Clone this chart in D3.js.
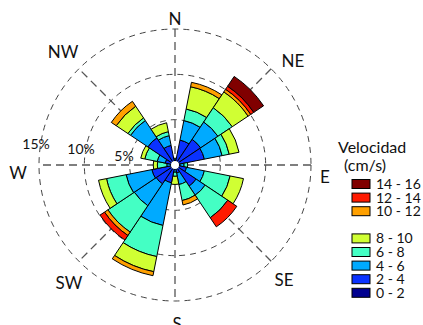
<!DOCTYPE html>
<html>
<head>
<meta charset="utf-8">
<script src="https://cdn.jsdelivr.net/npm/d3@7"></script>
<style>
  html, body { margin: 0; padding: 0; background: #fff; }
  svg { display: block; }
  text { font-family: Lato, "Open Sans", sans-serif; fill: #111; }
</style>
</head>
<body>
<svg id="rose" width="423" height="325"></svg>
<script>
// 16 compass sectors, clockwise from north
const directions = ["N","NNE","NE","ENE","E","ESE","SE","SSE","S","SSW","SW","WSW","W","WNW","NW","NNW"];

// speed classes (cm/s) and their colours
const speedClasses = ["0 - 2","2 - 4","4 - 6","6 - 8","8 - 10","10 - 12","12 - 14","14 - 16"];
const classColors  = ["#00008f","#0a32ff","#00aaff","#44ffc4","#d0ff33","#ffa000","#ff1a00","#800000"];

// frequency (% of records) per direction, one array per speed class
const f0_2   = [0,    0,   0,    0,   0,    0,   0,   0,   0,    0,   0,    0,   0,    0,    0,    0   ];
const f2_4   = [0.55, 2.8, 3.4,  3.3, 0.55, 1.3, 2.8, 0.9, 0.45, 2.0, 2.5,  2.6, 0.45, 1.1,  3.6,  2.2 ];
const f4_6   = [0.2,  2.2, 2.3,  2.0, 0.45, 2.0, 1.2, 1.3, 0.35, 4.8, 2.9,  2.9, 0.45, 0.9,  2.3,  1.1 ];
const f6_8   = [0,    1.3, 1.9,  0.8, 0.4,  2.9, 3.0, 1.8, 0.45, 3.5, 3.5,  2.2, 1.05, 1.4,  0.35, 0.45];
const f8_10  = [0,    2.5, 2.1,  1.1, 0,    1.5, 0,   0,   0.9,  1.7, 0,    0.9, 0.45, 0.45, 1.55, 1.0 ];
const f10_12 = [0,    0.5, 0.35, 0,   0,    0,   0,   0.5, 0,    0.45,0.45, 0,   0,    0,    0.65, 0   ];
const f12_14 = [0,    0,   0.4,  0,   0,    0,   1.2, 0,   0,    0,   0.6,  0,   0,    0,    0,    0   ];
const f14_16 = [0,    0,   1.3,  0,   0,    0,   0,   0,   0,    0,   0,    0,   0,    0,    0,    0   ];
const freqByClass = [f0_2, f2_4, f4_6, f6_8, f8_10, f10_12, f12_14, f14_16];

// radial rings and their labels
const ringValues = [5, 10, 15];
const ringLabels = ["5%", "10%", "15%"];
const compassLabels = ["N","NE","E","SE","S","SW","W","NW"];

const svg = d3.select("#rose");
const cx = 175, cy = 165;
const g = svg.append("g").attr("transform", `translate(${cx},${cy})`);

const r = d3.scaleLinear().domain([0, 15]).range([0, 136]);
const angle = d3.scaleBand().domain(directions).range([0, 2 * Math.PI]);
const sectorWidth = angle.bandwidth();

// dashed rings
g.selectAll("circle.ring").data(ringValues).join("circle")
  .attr("class", "ring")
  .attr("r", d => r(d))
  .attr("fill", "none")
  .attr("stroke", "#444")
  .attr("stroke-width", 1)
  .attr("stroke-dasharray", "6,5");

// dashed spokes N-S, E-W and the diagonals
const spokeAngles = d3.range(4).map(i => i * Math.PI / 4);
g.selectAll("line.spoke").data(spokeAngles).join("line")
  .attr("class", "spoke")
  .attr("x1", a => Math.sin(a) * r(15))
  .attr("y1", a => -Math.cos(a) * r(15))
  .attr("x2", a => -Math.sin(a) * r(15))
  .attr("y2", a => Math.cos(a) * r(15))
  .attr("stroke", "#555")
  .attr("stroke-width", 1.3)
  .attr("stroke-dasharray", "8,5");

// stacked sectors
const stacked = directions.map((dir, i) => {
  let acc = 0;
  return speedClasses.map((c, k) => {
    const v = freqByClass[k][i];
    const seg = { dir, k, inner: acc, outer: acc + v };
    acc += v;
    return seg;
  }).filter(s => s.outer > s.inner);
});

const arc = d3.arc()
  .innerRadius(d => r(d.inner))
  .outerRadius(d => r(d.outer))
  .startAngle(d => angle(d.dir) - sectorWidth / 2)
  .endAngle(d => angle(d.dir) + sectorWidth / 2);

g.append("g").selectAll("path").data(stacked.flat()).join("path")
  .attr("d", arc)
  .attr("fill", d => classColors[d.k])
  .attr("stroke", "#000")
  .attr("stroke-width", 1)
  .attr("stroke-linejoin", "round");

// calm centre
g.append("circle").attr("r", 4).attr("fill", "#fff");

// ring labels along the W side, slightly above the axis
const ringLabelPos = [[-51, -4], [-94, -11], [-139, -16]];
g.selectAll("text.ringlab").data(ringLabels).join("text")
  .attr("class", "ringlab")
  .attr("x", (d, i) => ringLabelPos[i][0])
  .attr("y", (d, i) => ringLabelPos[i][1])
  .attr("text-anchor", "middle")
  .attr("font-size", 14)
  .text(d => d);

// compass labels
const compassPos = {
  N: [0, -140], NE: [118, -98], E: [150, 18], SE: [109, 121],
  S: [2, 165], SW: [-106, 124], W: [-157, 14], NW: [-112, -107]
};
g.selectAll("text.compass").data(compassLabels).join("text")
  .attr("class", "compass")
  .attr("x", d => compassPos[d][0])
  .attr("y", d => compassPos[d][1])
  .attr("text-anchor", "middle")
  .attr("font-size", 17)
  .text(d => d);

// legend
const legend = svg.append("g");
legend.append("text").attr("x", 338).attr("y", 153).attr("font-size", 16).text("Velocidad");
legend.append("text").attr("x", 344).attr("y", 171).attr("font-size", 16).text("(cm/s)");

const legendOrder = [7, 6, 5, null, 4, 3, 2, 1, 0];
const rowY = d3.scaleLinear().domain([0, 1]).range([184, 197.6]);
const rows = legendOrder.map((k, row) => ({ k, row })).filter(d => d.k !== null);
const item = legend.selectAll("g.item").data(rows).join("g")
  .attr("class", "item")
  .attr("transform", d => `translate(0,${rowY(d.row)})`);
item.append("rect")
  .attr("x", 352).attr("y", -4.5).attr("width", 18).attr("height", 9)
  .attr("fill", d => classColors[d.k])
  .attr("stroke", "#000").attr("stroke-width", 1);
item.append("text")
  .attr("x", 376).attr("y", 5)
  .attr("font-size", 14)
  .text(d => speedClasses[d.k]);
</script>
</body>
</html>
